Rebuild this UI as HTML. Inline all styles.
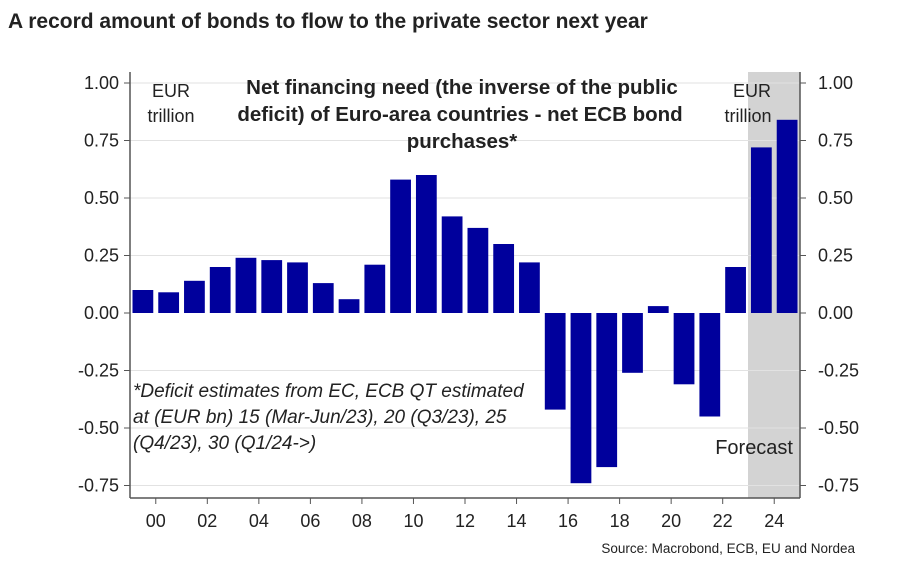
<!DOCTYPE html>
<html><head><meta charset="utf-8"><style>
body{margin:0;background:#fff;width:900px;height:578px;overflow:hidden}
text{font-family:"Liberation Sans",sans-serif}
</style></head><body>
<svg width="900" height="578" xmlns="http://www.w3.org/2000/svg">
<text x="8" y="28" font-size="21" font-weight="bold" fill="#222">A record amount of bonds to flow to the private sector next year</text>
<rect x="748" y="72" width="52" height="426" fill="#d3d3d3"/>
<g stroke="#e2e2e2" stroke-width="1">
<line x1="130" x2="800" y1="83" y2="83"/><line x1="130" x2="800" y1="140.5" y2="140.5"/>
<line x1="130" x2="800" y1="198" y2="198"/><line x1="130" x2="800" y1="255.5" y2="255.5"/>
<line x1="130" x2="800" y1="370.5" y2="370.5"/><line x1="130" x2="800" y1="428" y2="428"/>
<line x1="130" x2="800" y1="485.5" y2="485.5"/>
</g>
<g fill="#00009c" id="bars"></g>
<g stroke="#555" stroke-width="1.5" fill="none">
<line x1="130" y1="72" x2="130" y2="498"/><line x1="800" y1="72" x2="800" y2="498"/>
<line x1="130" y1="498" x2="800" y2="498"/>
</g>
<g stroke="#555" stroke-width="1" id="ticks"></g>
<g font-size="18" fill="#222" id="ylab"></g>
<g font-size="18" fill="#222" text-anchor="middle" id="xlab"></g>
<text x="171" y="97" font-size="18" text-anchor="middle" fill="#222">EUR</text>
<text x="171" y="122" font-size="18" text-anchor="middle" fill="#222">trillion</text>
<text x="752" y="97" font-size="18" text-anchor="middle" fill="#222">EUR</text>
<text x="748" y="122" font-size="18" text-anchor="middle" fill="#222">trillion</text>
<g font-size="20.5" font-weight="bold" fill="#222" text-anchor="middle">
<text x="462" y="94">Net financing need (the inverse of the public</text>
<text x="460" y="121">deficit) of Euro-area countries - net ECB bond</text>
<text x="462" y="148">purchases*</text>
</g>
<g font-size="19" font-style="italic" fill="#222">
<text x="133" y="397">*Deficit estimates from EC, ECB QT estimated</text>
<text x="133" y="423">at (EUR bn) 15 (Mar-Jun/23), 20 (Q3/23), 25</text>
<text x="133" y="449">(Q4/23), 30 (Q1/24-&gt;)</text>
</g>
<text x="793" y="454" font-size="20" text-anchor="end" fill="#222">Forecast</text>
<text x="855" y="553" font-size="13.5" text-anchor="end" fill="#222">Source: Macrobond, ECB, EU and Nordea</text>
</svg>
<script>
var v=[0.10,0.09,0.14,0.20,0.24,0.23,0.22,0.13,0.06,0.21,0.58,0.60,0.42,0.37,0.30,0.22,-0.42,-0.74,-0.67,-0.26,0.03,-0.31,-0.45,0.20,0.72,0.84];
var ns="http://www.w3.org/2000/svg",w=670/26,z=313,s=230;
function el(p,t,a,tx){var e=document.createElementNS(ns,t);for(var k in a)e.setAttribute(k,a[k]);if(tx)e.textContent=tx;document.getElementById(p).appendChild(e);}
v.forEach(function(d,i){var x=130+w*i+2.5,h=Math.abs(d)*s;el("bars","rect",{x:x,y:d>0?z-h:z,width:w-5,height:h});});
for(var k=0;k<=24;k+=2){var x=130+w*(k+1);el("ticks","line",{x1:x,x2:x,y1:498,y2:504});el("xlab","text",{x:x,y:527},(k<10?"0":"")+k);}
[1,0.75,0.5,0.25,0,-0.25,-0.5,-0.75].forEach(function(t){var y=z-t*s,l=t.toFixed(2);
el("ticks","line",{x1:124,x2:130,y1:y,y2:y});el("ticks","line",{x1:800,x2:806,y1:y,y2:y});
el("ylab","text",{x:119,y:y+6,"text-anchor":"end"},l);el("ylab","text",{x:818,y:y+6},l);});
</script>
</body></html>
